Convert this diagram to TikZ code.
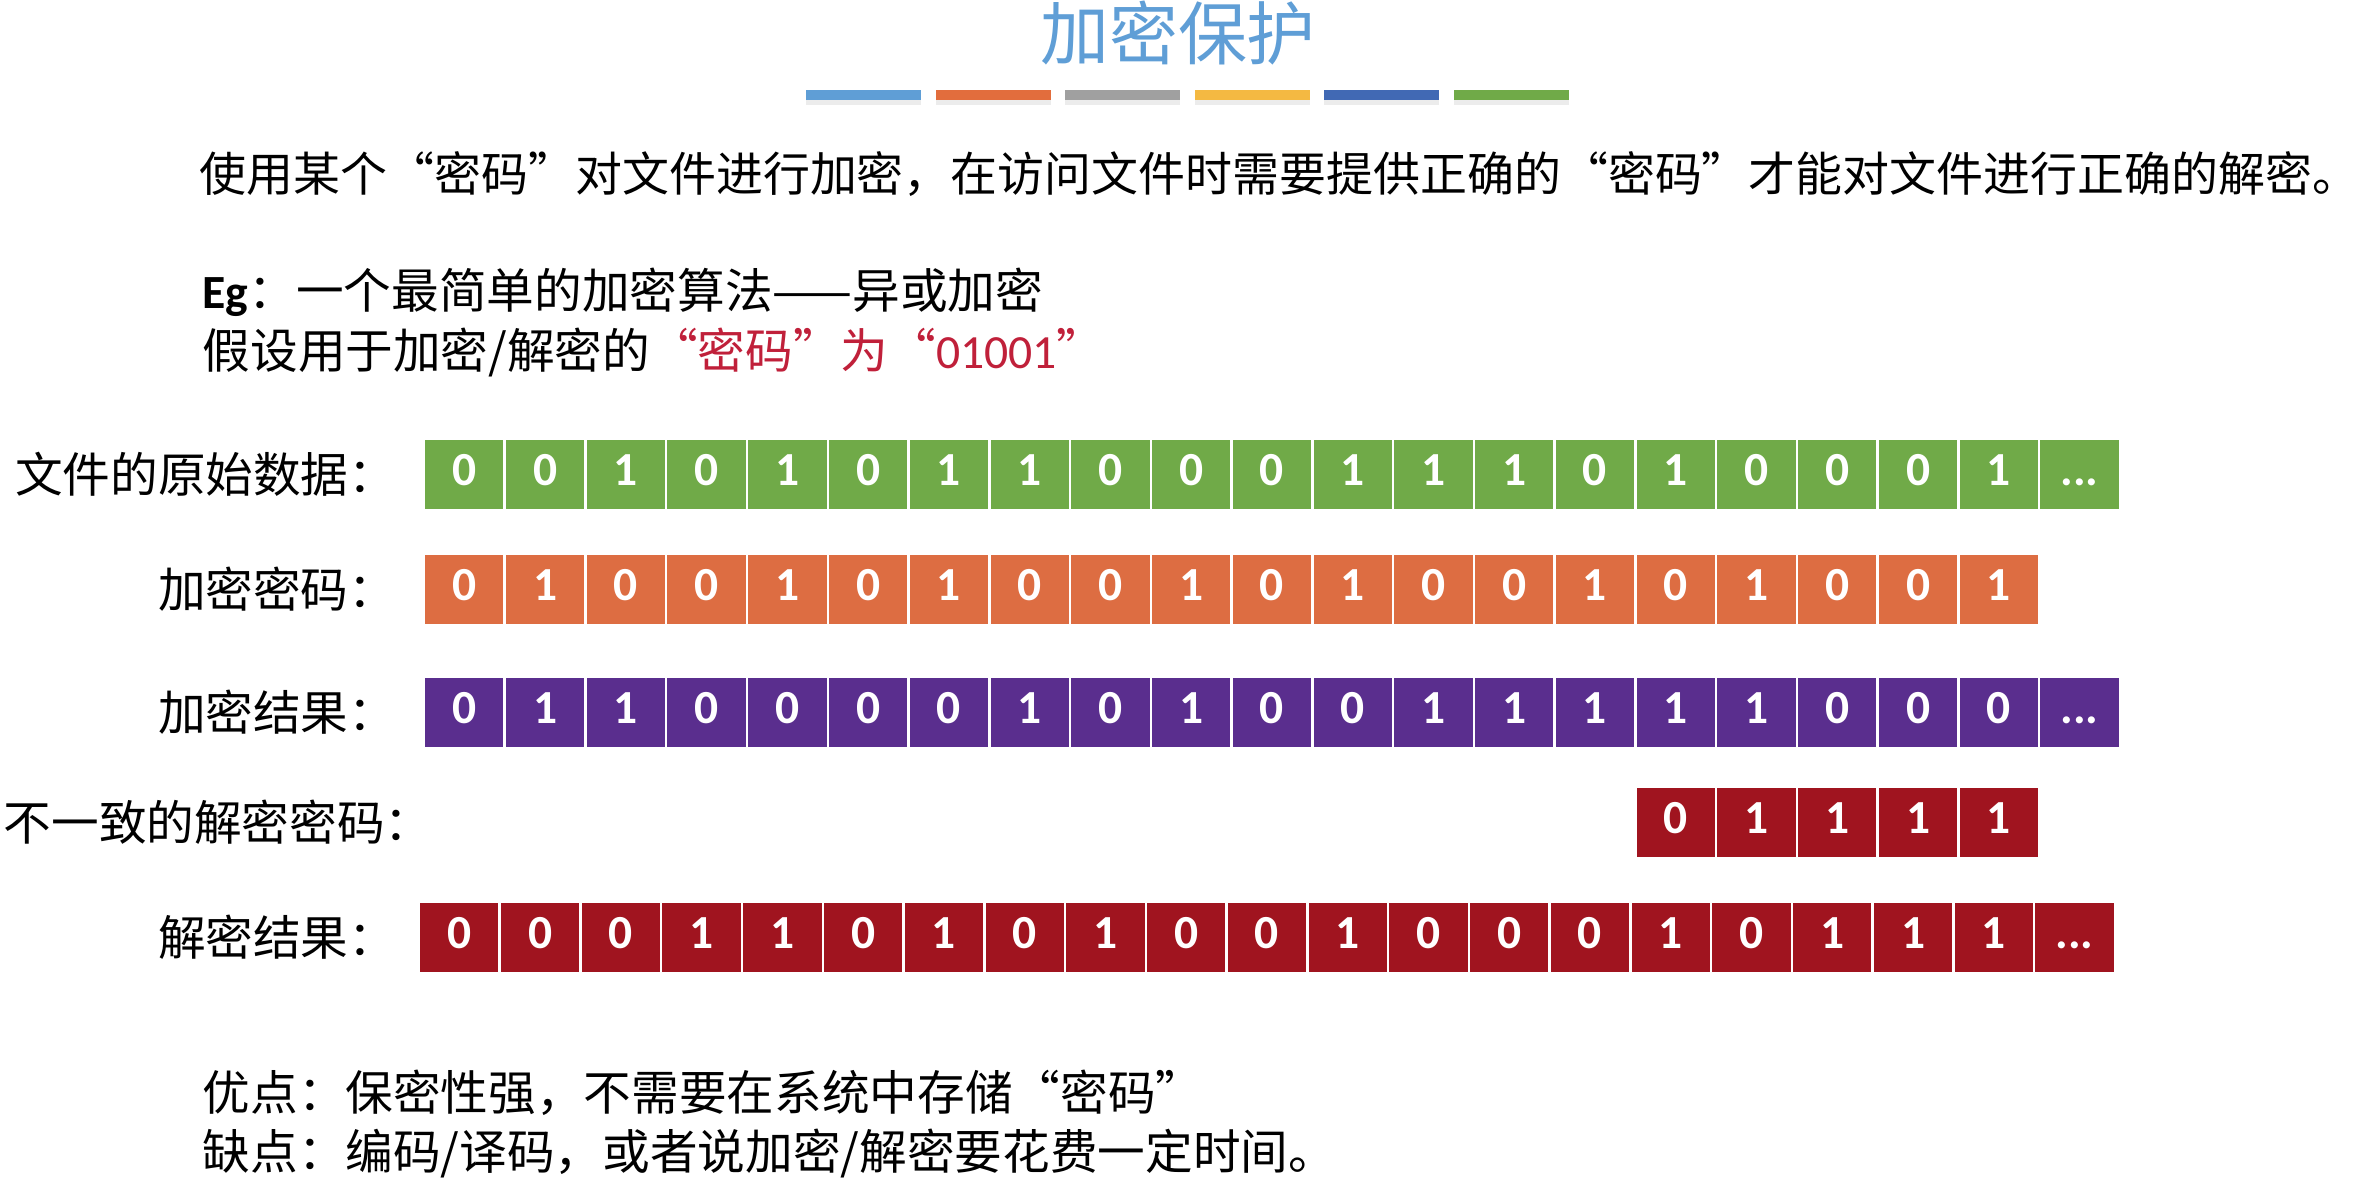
\documentclass[tikz,border=0pt]{standalone}
\usepackage{fontspec}
\setmainfont{Noto Sans CJK SC}
\newfontfamily\numfont{Carlito}
\usetikzlibrary{shadows}
\definecolor{ttlblue}{HTML}{5F9ED6}
\definecolor{barorange}{HTML}{E26D3D}
\definecolor{bargray}{HTML}{A0A0A0}
\definecolor{baryellow}{HTML}{F4B942}
\definecolor{bardblue}{HTML}{4169B4}
\definecolor{cgreen}{HTML}{70AA48}
\definecolor{corange}{HTML}{DD6D42}
\definecolor{cpurple}{HTML}{5A2E8E}
\definecolor{cred}{HTML}{A0141F}
\definecolor{keyred}{HTML}{C0203A}
\begin{document}
\begin{tikzpicture}[line cap=round,line join=round,x=0.01cm,y=-0.01cm,
  txt/.style={inner sep=0pt,font=\fontsize{13.55pt}{16pt}\selectfont},
  cellbox/.style={draw=white,line width=0.025cm,minimum width=0.8076cm,minimum height=0.71cm,
    inner sep=0pt,text height=0.63em,text depth=0pt,text=white,
    font=\numfont\bfseries\fontsize{13.5pt}{15pt}\selectfont}]
\useasboundingbox (0,0) rectangle (2374,1188);
\node[inner sep=0pt,text=ttlblue,font=\fontsize{19.6pt}{24pt}\selectfont] (title) at (1178,33) {加密保护};
\foreach \c [count=\i from 0] in {ttlblue,barorange,bargray,baryellow,bardblue,cgreen}
  \fill[\c,drop shadow={opacity=0.15,shadow xshift=0pt,shadow yshift=-0.05cm}] (806+129.5*\i,90) rectangle +(115,10);
\node[txt,anchor=west,font=\fontsize{13.35pt}{16pt}\selectfont] (intro) at (199,174) {使用某个“密码”对文件进行加密，在访问文件时需要提供正确的“密码”才能对文件进行正确的解密。};
\node[txt,anchor=west] (eg) at (202,292) {{\numfont\bfseries Eg}：一个最简单的加密算法——异或加密};
\node[txt,anchor=west] (egkey) at (202,353) {假设用于加密/解密的\textcolor{keyred}{“密码”为“{\numfont 01001}”}};
% rows of bits
\node[txt,anchor=east] (lorig) at (397,474.5) {文件的原始数据：};
\foreach \b [count=\i] in {0,0,1,0,1,0,1,1,0,0,0,1,1,1,0,1,0,0,0,1}
  \node[cellbox,fill=cgreen] (g\i) at (383.6+80.76*\i,474.5) {\b};
\node[cellbox,fill=cgreen] (g21) at (383.6+80.76*21,474.5) {...};
\node[txt,anchor=east] (lkey) at (397,589.5) {加密密码：};
\foreach \b [count=\i] in {0,1,0,0,1,0,1,0,0,1,0,1,0,0,1,0,1,0,0,1}
  \node[cellbox,fill=corange] (k\i) at (383.6+80.76*\i,589.5) {\b};
\node[txt,anchor=east] (lres) at (397,712.5) {加密结果：};
\foreach \b [count=\i] in {0,1,1,0,0,0,0,1,0,1,0,0,1,1,1,1,1,0,0,0}
  \node[cellbox,fill=cpurple] (r\i) at (383.6+80.76*\i,712.5) {\b};
\node[cellbox,fill=cpurple] (r21) at (383.6+80.76*21,712.5) {...};
\node[txt,anchor=west] (lbad) at (3,822.5) {不一致的解密密码：};
\foreach \b [count=\i from 16] in {0,1,1,1,1}
  \node[cellbox,fill=cred] (w\i) at (383.6+80.76*\i,822.5) {\b};
\node[txt,anchor=east] (ldec) at (397,937.5) {解密结果：};
\foreach \b [count=\i] in {0,0,0,1,1,0,1,0,1,0,0,1,0,0,0,1,0,1,1,1}
  \node[cellbox,fill=cred] (d\i) at (378.6+80.76*\i,937.5) {\b};
\node[cellbox,fill=cred] (d21) at (378.6+80.76*21,937.5) {...};
\node[txt,anchor=west] (pro) at (202,1093) {优点：保密性强，不需要在系统中存储“密码”};
\node[txt,anchor=west] (con) at (202,1154) {缺点：编码/译码，或者说加密/解密要花费一定时间。};
\end{tikzpicture}
\end{document}
